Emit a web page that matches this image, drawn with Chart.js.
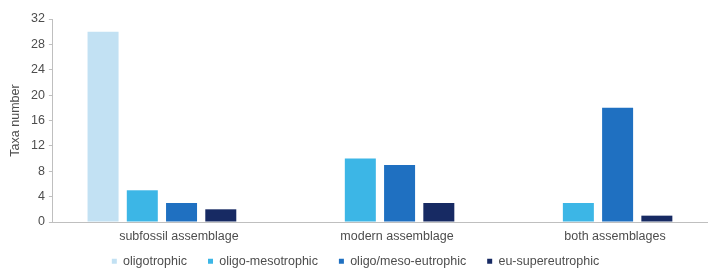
<!DOCTYPE html>
<html>
<head>
<meta charset="utf-8">
<script src="https://cdn.jsdelivr.net/npm/chart.js@4"></script>
<style>
  html, body { margin: 0; padding: 0; background: #fff; }
  #wrap { width: 711px; height: 271px; }
</style>
</head>
<body>
<div id="wrap"><canvas id="grafico" width="711" height="271"></canvas></div>
<script>
// categorias y series
const categorias = ['subfossil assemblage', 'modern assemblage', 'both assemblages'];
const oligotrophic = [30, 0, 0];
const oligoMesotrophic = [5, 10, 3];
const oligoMesoEutrophic = [3, 9, 18];
const euSupereutrophic = [2, 3, 1];
const yTicks = [0, 4, 8, 12, 16, 20, 24, 28, 32];

const fuente = { family: "'Liberation Sans', Arial, sans-serif", size: 12.5 };
const gris = '#4d4d4d';

// la leyenda necesita mas espacio horizontal que vertical
const ajusteLeyenda = {
    id: 'ajusteLeyenda',
    beforeInit(chart) {
        const leyenda = chart.legend;
        const fit = leyenda.fit;
        leyenda.fit = function () {
            fit.call(this);
            this.height = 20;
        };
        const draw = leyenda.draw;
        leyenda.draw = function (area) {
            const top = this.top;
            this.top = top - 17;
            draw.call(this, area);
            this.top = top;
        };
    }
};

var ctx = document.getElementById('grafico').getContext('2d');
var miGrafico = new Chart(ctx, {
    type: 'bar',
    data: {
        labels: categorias,
        datasets: [
            { label: 'oligotrophic', data: oligotrophic, backgroundColor: '#c2e1f3' },
            { label: 'oligo-mesotrophic', data: oligoMesotrophic, backgroundColor: '#3cb6e6' },
            { label: 'oligo/meso-eutrophic', data: oligoMesoEutrophic, backgroundColor: '#1f70c1' },
            { label: 'eu-supereutrophic', data: euSupereutrophic, backgroundColor: '#172a63' }
        ]
    },
    plugins: [ajusteLeyenda],
    options: {
        responsive: false,
        animation: false,
        categoryPercentage: 0.72,
        barPercentage: 0.79,
        layout: { padding: { left: 4, right: 4, top: 19, bottom: 0 } },
        plugins: {
            tooltip: { enabled: false },
            legend: {
                position: 'bottom',
                labels: {
                    boxWidth: 5,
                    boxHeight: 5,
                    padding: 21,
                    color: gris,
                    font: fuente
                }
            }
        },
        scales: {
            x: {
                grid: { display: false, drawTicks: false },
                border: { color: '#bfbfbf', width: 1 },
                ticks: { color: gris, font: fuente, padding: 7, labelOffset: 17 }
            },
            y: {
                min: 0,
                max: 32,
                afterBuildTicks: (eje) => { eje.ticks = yTicks.map(v => ({ value: v })); },
                grid: { drawOnChartArea: false, drawTicks: true, tickLength: 4, color: '#bfbfbf' },
                border: { color: '#bfbfbf', width: 1 },
                ticks: { color: gris, font: fuente, padding: 4 },
                title: { display: true, text: 'Taxa number', color: gris, font: fuente, padding: 4 }
            }
        }
    }
});
</script>
</body>
</html>
